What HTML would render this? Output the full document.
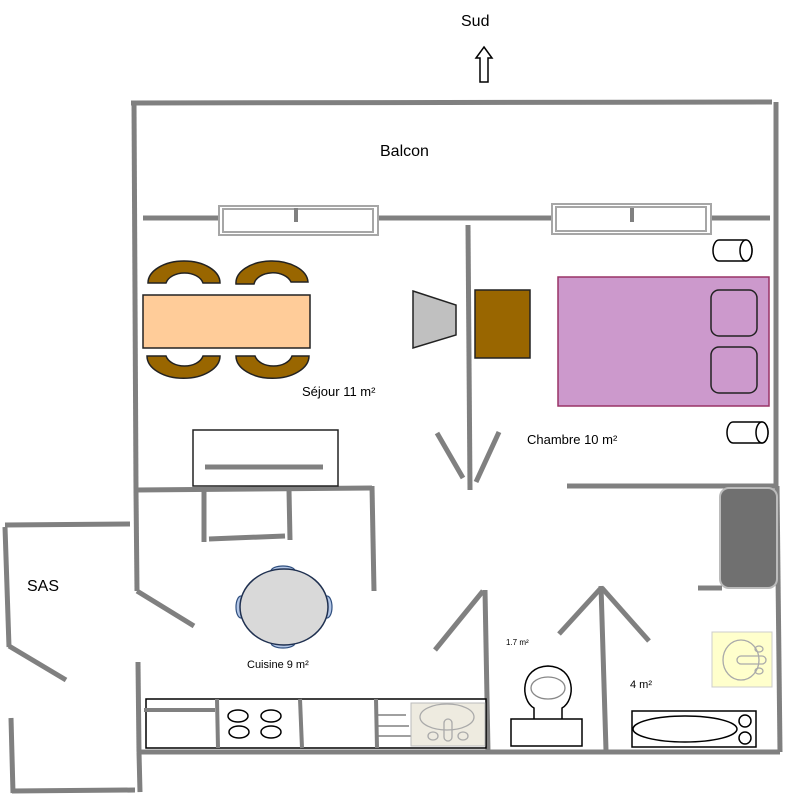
<!DOCTYPE html>
<html><head><meta charset="utf-8"><style>
html,body{margin:0;padding:0;background:#fff;}
svg{display:block;}
text{font-family:"Liberation Sans",sans-serif;fill:#000;}
</style></head><body>
<svg width="791" height="797" viewBox="0 0 791 797" xmlns="http://www.w3.org/2000/svg">
<g stroke="#808080" stroke-width="5" fill="none" stroke-linecap="butt">
<!-- outer walls -->
<line x1="131" y1="103" x2="772" y2="102"/>
<line x1="134" y1="101" x2="136" y2="491"/>
<line x1="136" y1="491" x2="137" y2="591"/>
<line x1="137" y1="591" x2="194" y2="626"/>
<line x1="138" y1="662" x2="139" y2="752"/>
<line x1="139" y1="752" x2="140" y2="792"/>
<line x1="776" y1="102" x2="776" y2="486"/>
<line x1="777" y1="486" x2="780" y2="752"/>
<!-- balcony wall -->
<line x1="143" y1="218" x2="219" y2="218"/>
<line x1="378" y1="218" x2="552" y2="218"/>
<line x1="710" y1="218" x2="770" y2="218"/>
<!-- interior -->
<line x1="468" y1="225" x2="470" y2="490"/>
<line x1="437" y1="433" x2="463" y2="478"/>
<line x1="499" y1="432" x2="476" y2="482"/>
<line x1="136" y1="490" x2="372" y2="488"/>
<line x1="372" y1="486" x2="374" y2="591"/>
<line x1="204" y1="490" x2="204" y2="542"/>
<line x1="289" y1="490" x2="290" y2="540"/>
<line x1="209" y1="539" x2="285" y2="536"/>
<line x1="567" y1="486" x2="776" y2="486"/>
<line x1="435" y1="650" x2="483" y2="591"/>
<line x1="485" y1="590" x2="488" y2="752"/>
<line x1="137" y1="752" x2="780" y2="752"/>
<line x1="601" y1="586" x2="606" y2="750"/>
<line x1="559" y1="634" x2="601" y2="588"/>
<line x1="602" y1="588" x2="649" y2="641"/>
<line x1="698" y1="588" x2="722" y2="588"/>
<!-- SAS -->
<line x1="5" y1="525" x2="130" y2="524"/>
<line x1="5" y1="527" x2="9" y2="647"/>
<line x1="9" y1="646" x2="66" y2="680"/>
<line x1="11" y1="718" x2="13" y2="793"/>
<line x1="12" y1="791" x2="135" y2="790"/>
</g>
<!-- windows -->
<g fill="#fff" stroke="#a6a6a6" stroke-width="2">
<rect x="219" y="206" width="159" height="29"/>
<rect x="223" y="209" width="150" height="23"/>
<rect x="552" y="204" width="159" height="30"/>
<rect x="556" y="207" width="150" height="24"/>
</g>
<line x1="296" y1="208" x2="296" y2="222" stroke="#808080" stroke-width="4"/>
<line x1="632" y1="208" x2="632" y2="222" stroke="#808080" stroke-width="4"/>
<!-- Sud arrow -->
<text x="461" y="26" font-size="16">Sud</text>
<path d="M484,47 L492,58 L488,58 L488,82 L480,82 L480,58 L476,58 Z" fill="#fff" stroke="#000" stroke-width="1.5"/>
<text x="380" y="156" font-size="16">Balcon</text>
<!-- dining chairs -->
<g fill="#996600" stroke="#222" stroke-width="1.5">
<path d="M148,283 A36,22 0 0 1 220,283 L203,283 A19,13 0 0 0 166,283 Z"/>
<path d="M236,284 A36,22 0 0 1 308,282 L291,282 A19,13 0 0 0 254,284 Z"/>
<path d="M147,356 A36,22 0 0 0 220,356 L203,356 A19,13 0 0 1 166,356 Z"/>
<path d="M236,356 A36,22 0 0 0 309,356 L292,356 A19,13 0 0 1 255,356 Z"/>
</g>
<rect x="143" y="295" width="167" height="53" fill="#FFCC99" stroke="#222" stroke-width="1.5"/>
<polygon points="413,291 456,305 456,335 413,348" fill="#C0C0C0" stroke="#222" stroke-width="1.5"/>
<rect x="475" y="290" width="55" height="68" fill="#996600" stroke="#222" stroke-width="1.5"/>
<text x="302" y="396" font-size="13">Séjour 11 m²</text>
<!-- bed -->
<rect x="558" y="277" width="211" height="129" fill="#CC99CC" stroke="#993366" stroke-width="1.5"/>
<rect x="711" y="290" width="46" height="46" rx="8" fill="#CC99CC" stroke="#222" stroke-width="1.5"/>
<rect x="711" y="347" width="46" height="46" rx="8" fill="#CC99CC" stroke="#222" stroke-width="1.5"/>
<!-- cylinders -->
<g fill="#fff" stroke="#000" stroke-width="1.5">
<path d="M719,240 L746,240 A6,10.5 0 0 1 746,261 L719,261 A6,10.5 0 0 1 719,240 Z"/>
<ellipse cx="746" cy="250.5" rx="6" ry="10.5"/>
<path d="M733,422 L762,422 A6,10.5 0 0 1 762,443 L733,443 A6,10.5 0 0 1 733,422 Z"/>
<ellipse cx="762" cy="432.5" rx="6" ry="10.5"/>
</g>
<text x="527" y="444" font-size="13">Chambre 10 m²</text>
<!-- sofa -->
<rect x="193" y="430" width="145" height="56" fill="#fff" stroke="#222" stroke-width="1.5"/>
<line x1="205" y1="467" x2="323" y2="467" stroke="#808080" stroke-width="5"/>
<!-- shower -->
<rect x="720" y="488" width="57" height="100" rx="9" fill="#707070" stroke="#bbb" stroke-width="2"/>
<text x="27" y="591" font-size="16">SAS</text>
<!-- kitchen table -->
<g fill="#B4C7E7" stroke="#2F4F7F" stroke-width="1.2">
<ellipse cx="283" cy="571" rx="12" ry="5"/>
<ellipse cx="283" cy="643" rx="12" ry="5"/>
<ellipse cx="241" cy="607" rx="5" ry="11"/>
<ellipse cx="327" cy="607" rx="5" ry="11"/>
</g>
<ellipse cx="284" cy="607" rx="44" ry="38" fill="#D9D9D9" stroke="#1F3050" stroke-width="1.5"/>
<text x="247" y="668" font-size="11">Cuisine 9 m²</text>
<!-- counter -->
<rect x="146" y="699" width="340" height="49" fill="#fff" stroke="#000" stroke-width="1.5"/>
<g stroke="#808080" stroke-width="4">
<line x1="217" y1="699" x2="218" y2="748"/>
<line x1="300" y1="699" x2="302" y2="748"/>
<line x1="376" y1="699" x2="377" y2="748"/>
<line x1="144" y1="710" x2="215" y2="710"/>
</g>
<g fill="none" stroke="#000" stroke-width="1.5">
<ellipse cx="238" cy="716" rx="10" ry="6"/>
<ellipse cx="271" cy="716" rx="10" ry="6"/>
<ellipse cx="239" cy="732" rx="10" ry="6"/>
<ellipse cx="271" cy="732" rx="10" ry="6"/>
</g>
<g stroke="#808080" stroke-width="1.5">
<line x1="378" y1="715" x2="406" y2="715"/>
<line x1="378" y1="726" x2="409" y2="726"/>
<line x1="378" y1="736" x2="414" y2="736"/>
</g>
<rect x="411" y="703" width="74" height="43" fill="#EEEBE0" stroke="#bbb" stroke-width="1"/>
<g fill="none" stroke="#aaa" stroke-width="1.3">
<ellipse cx="447" cy="717" rx="27" ry="13"/>
<rect x="444" y="719" width="8" height="22" rx="4"/>
<ellipse cx="433" cy="736" rx="5" ry="4"/>
<ellipse cx="463" cy="736" rx="5" ry="4"/>
</g>
<!-- WC -->
<text x="506" y="645" font-size="8">1.7 m²</text>
<path d="M534,719 L534,708 C520,700 520,667 548,666 C576,667 576,700 562,708 L562,719" fill="#fff" stroke="#000" stroke-width="1.5"/>
<ellipse cx="548" cy="688" rx="17" ry="11" fill="none" stroke="#888" stroke-width="1.3"/>
<rect x="511" y="719" width="71" height="27" fill="#fff" stroke="#000" stroke-width="1.5"/>
<!-- bath -->
<text x="630" y="688" font-size="11">4 m²</text>
<rect x="632" y="711" width="124" height="36" fill="#fff" stroke="#000" stroke-width="1.5"/>
<ellipse cx="685" cy="729" rx="52" ry="13" fill="none" stroke="#000" stroke-width="1.5"/>
<circle cx="745" cy="721" r="6" fill="none" stroke="#000" stroke-width="1.5"/>
<circle cx="745" cy="738" r="6" fill="none" stroke="#000" stroke-width="1.5"/>
<rect x="712" y="632" width="60" height="55" fill="#FFFFCC" stroke="#ccc" stroke-width="1"/>
<g fill="none" stroke="#aaa" stroke-width="1.3">
<ellipse cx="741" cy="660" rx="18" ry="20"/>
<rect x="737" y="656" width="29" height="8" rx="4"/>
<ellipse cx="759" cy="649" rx="4" ry="3"/>
<ellipse cx="759" cy="671" rx="4" ry="3"/>
</g>
</svg>
</body></html>
